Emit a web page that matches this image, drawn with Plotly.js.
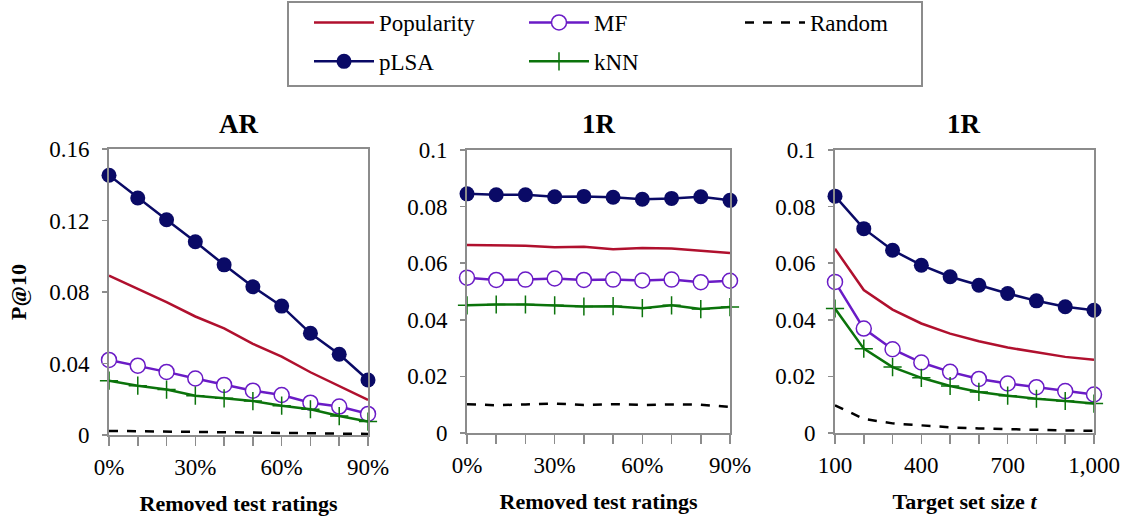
<!DOCTYPE html>
<html>
<head>
<meta charset="utf-8">
<script src="https://cdn.plot.ly/plotly-3.0.1.min.js"></script>
<style>
html,body{margin:0;padding:0;background:#fff;}
#chart{width:1129px;height:522px;}
#chart text{font-family:"Liberation Serif","Times New Roman","DejaVu Serif",serif !important;}
</style>
</head>
<body>
<div id="chart"></div>
<script>
// ---- Data ----
const removedPct = [0, 10, 20, 30, 40, 50, 60, 70, 80, 90];
const targetSize = [100, 200, 300, 400, 500, 600, 700, 800, 900, 1000];

const panelTitles = ["AR", "1R", "1R"];
const xTitles = ["Removed test ratings", "Removed test ratings", "Target set size <i>t</i>"];
const yTitle = "P@10";

const pctTickText = ["0%", "", "", "30%", "", "", "60%", "", "", "90%"];
const sizeTickText = ["100", "", "", "400", "", "", "700", "", "", "1,000"];
const arYTicks = [0, 0.04, 0.08, 0.12, 0.16];
const arYTickText = ["0", "0.04", "0.08", "0.12", "0.16"];
const oneRYTicks = [0, 0.02, 0.04, 0.06, 0.08, 0.1];
const oneRYTickText = ["0", "0.02", "0.04", "0.06", "0.08", "0.1"];

// Panel 1: AR vs removed test ratings
const arPopularity = [0.0892, 0.0818, 0.0743, 0.0663, 0.0596, 0.0510, 0.0439, 0.0351, 0.0274, 0.0196];
const arMF         = [0.0420, 0.0388, 0.0353, 0.0316, 0.0280, 0.0248, 0.0224, 0.0181, 0.0159, 0.0118];
const arRandom     = [0.0023, 0.0021, 0.0020, 0.0018, 0.0016, 0.0014, 0.0012, 0.0010, 0.0008, 0.0006];
const arPLSA       = [0.1453, 0.1326, 0.1204, 0.1081, 0.0952, 0.0829, 0.0721, 0.0569, 0.0452, 0.0308];
const arKNN        = [0.0304, 0.0276, 0.0254, 0.0220, 0.0205, 0.0190, 0.0164, 0.0144, 0.0106, 0.0075];

// Panel 2: 1R vs removed test ratings
const rmPopularity = [0.0664, 0.0662, 0.0662, 0.0656, 0.0658, 0.0649, 0.0654, 0.0652, 0.0645, 0.0636];
const rmMF         = [0.0549, 0.0541, 0.0542, 0.0546, 0.0541, 0.0542, 0.0539, 0.0542, 0.0533, 0.0538];
const rmRandom     = [0.0102, 0.0098, 0.0101, 0.0104, 0.0099, 0.0102, 0.0099, 0.0101, 0.0100, 0.0092];
const rmPLSA       = [0.0845, 0.0842, 0.0842, 0.0835, 0.0836, 0.0833, 0.0826, 0.0829, 0.0835, 0.0822];
const rmKNN        = [0.0451, 0.0454, 0.0454, 0.0451, 0.0447, 0.0448, 0.0441, 0.0451, 0.0438, 0.0445];

// Panel 3: 1R vs target set size
const tsPopularity = [0.0651, 0.0505, 0.0436, 0.0387, 0.0351, 0.0324, 0.0302, 0.0285, 0.0269, 0.0259];
const tsMF         = [0.0534, 0.0369, 0.0296, 0.0249, 0.0216, 0.0191, 0.0175, 0.0162, 0.0148, 0.0136];
const tsRandom     = [0.0098, 0.0050, 0.0034, 0.0026, 0.0020, 0.0016, 0.0013, 0.0011, 0.0009, 0.0008];
const tsPLSA       = [0.0837, 0.0722, 0.0646, 0.0593, 0.0552, 0.0522, 0.0493, 0.0467, 0.0446, 0.0434];
const tsKNN        = [0.0440, 0.0298, 0.0233, 0.0195, 0.0166, 0.0145, 0.0132, 0.0121, 0.0113, 0.0104];

// ---- Styles ----
const FONT = "Liberation Serif, Times New Roman, DejaVu Serif, serif";
const seriesStyle = {
  Popularity: {line: {color: "#B0102E", width: 2.5}, mode: "lines", legend: "legend"},
  pLSA: {line: {color: "#0A0A66", width: 2.5}, mode: "lines+markers",
       marker: {symbol: "circle", size: 15, color: "#0A0A66"}, legend: "legend"},
  MF: {line: {color: "#6A1BC6", width: 2.5}, mode: "lines+markers",
       marker: {symbol: "circle", size: 15, color: "#ffffff", line: {color: "#6A1BC6", width: 1.5}}, legend: "legend2"},
  kNN: {line: {color: "#0B730B", width: 2.5}, mode: "lines+markers",
       marker: {symbol: "cross-thin", size: 13, color: "#0B730B", line: {color: "#0B730B", width: 1.5}}, legend: "legend2"},
  Random: {line: {color: "#000000", width: 2.5, dash: "dash"}, mode: "lines", legend: "legend3"}
};

const panels = [
  {x: removedPct, xa: "x", ya: "y", data: {Popularity: arPopularity, MF: arMF, Random: arRandom, pLSA: arPLSA, kNN: arKNN}},
  {x: removedPct, xa: "x2", ya: "y2", data: {Popularity: rmPopularity, MF: rmMF, Random: rmRandom, pLSA: rmPLSA, kNN: rmKNN}},
  {x: targetSize, xa: "x3", ya: "y3", data: {Popularity: tsPopularity, MF: tsMF, Random: tsRandom, pLSA: tsPLSA, kNN: tsKNN}}
];
const seriesOrder = ["Popularity", "pLSA", "MF", "kNN", "Random"];

const traces = [];
panels.forEach((p, pi) => {
  seriesOrder.forEach(name => {
    const s = seriesStyle[name];
    const t = {
      type: "scatter", name: name, x: p.x, y: p.data[name],
      xaxis: p.xa, yaxis: p.ya, mode: s.mode, line: s.line,
      cliponaxis: false, showlegend: pi === 0, legend: s.legend, legendgroup: name,
      hoverinfo: "x+y+name"
    };
    if (s.marker) t.marker = s.marker;
    traces.push(t);
  });
});

// ---- Layout ----
const W = 1129, H = 522;
const px = v => v / W;
const py = v => 1 - v / H;

const axisLine = {showline: true, linecolor: "#8c8c8c", linewidth: 2, mirror: true,
  showgrid: false, zeroline: false, ticks: "outside", tickcolor: "#8c8c8c", tickwidth: 1.5,
  tickfont: {family: FONT, size: 23, color: "#000"}};

function xAxis(domain, range, tickvals, ticktext, title, anchor) {
  return Object.assign({}, axisLine, {
    domain: domain, range: range, tickmode: "array", tickvals: tickvals, ticktext: ticktext,
    ticklen: 9, ticklabelstandoff: 1, anchor: anchor,
    title: {text: title, font: {family: FONT, size: 22, color: "#000", weight: "bold"}, standoff: 17}
  });
}
function yAxis(domain, range, tickvals, ticktext, anchor, title) {
  const a = Object.assign({}, axisLine, {
    domain: domain, range: range, tickmode: "array", tickvals: tickvals, ticktext: ticktext,
    ticklen: 5, ticklabelstandoff: 8, anchor: anchor
  });
  if (title) a.title = {text: title, font: {family: FONT, size: 22, color: "#000", weight: "bold"}, standoff: 16};
  return a;
}

const d1 = [px(109), px(368)], d2 = [px(467), px(730)], d3 = [px(835), px(1094)];
const yd1 = [py(435), py(149)], yd23 = [py(433), py(150)];

function legendAt(xpix) {
  return {orientation: "v", x: px(xpix), y: py(1), xanchor: "left", yanchor: "top",
    bgcolor: "rgba(0,0,0,0)", font: {family: FONT, size: 23, color: "#000"},
    itemwidth: 60, tracegroupgap: 6};
}

const layout = {
  width: W, height: H,
  margin: {l: 0, r: 0, t: 0, b: 0},
  paper_bgcolor: "#fff", plot_bgcolor: "#fff",
  font: {family: FONT, color: "#000"},
  xaxis: xAxis(d1, [0, 90], removedPct, pctTickText, xTitles[0], "y"),
  xaxis2: xAxis(d2, [0, 90], removedPct, pctTickText, xTitles[1], "y2"),
  xaxis3: xAxis(d3, [100, 1000], targetSize, sizeTickText, xTitles[2], "y3"),
  yaxis: yAxis(yd1, [0, 0.16], arYTicks, arYTickText, "x", yTitle),
  yaxis2: yAxis(yd23, [0, 0.1], oneRYTicks, oneRYTickText, "x2"),
  yaxis3: yAxis(yd23, [0, 0.1], oneRYTicks, oneRYTickText, "x3"),
  legend: legendAt(309),
  legend2: legendAt(524),
  legend3: legendAt(740),
  shapes: [{type: "rect", xref: "paper", yref: "paper", x0: px(288), x1: px(922), y0: py(86), y1: py(2),
    line: {color: "#8c8c8c", width: 2}, fillcolor: "rgba(0,0,0,0)"}],
  annotations: panelTitles.map((t, i) => ({
    text: t, xref: "paper", yref: "paper",
    x: ([d1, d2, d3][i][0] + [d1, d2, d3][i][1]) / 2, y: py(141),
    xanchor: "center", yanchor: "bottom", showarrow: false,
    font: {family: FONT, size: 27, color: "#000", weight: "bold"}
  }))
};

Plotly.newPlot("chart", traces, layout, {displayModeBar: false, staticPlot: true});
</script>
</body>
</html>
